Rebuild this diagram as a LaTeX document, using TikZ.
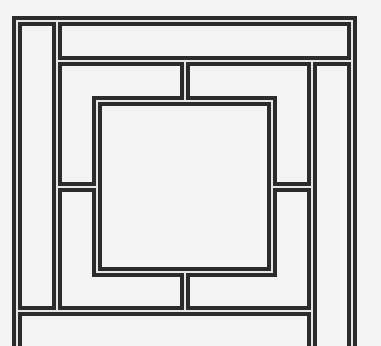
\documentclass[tikz,border=0pt]{standalone}
\definecolor{barcol}{HTML}{2B2B2B}
\definecolor{bgcol}{HTML}{F3F3F3}
\definecolor{gapcol}{HTML}{E6E6E6}
\newcommand\latticepaths[1]{%
  \draw[#1] (17,360) -- (17,21) -- (352,21) -- (352,360);
  \draw[#1] (57,21) -- (57,311);
  \draw[#1] (57,61) -- (352,61);
  \draw[#1] (312,61) -- (312,360);
  \draw[#1] (17,311) -- (312,311);
  \draw[#1] (97,101) rectangle (272,272);
  \draw[#1] (185,61) -- (185,101);
  \draw[#1] (185,272) -- (185,311);
  \draw[#1] (57,187) -- (97,187);
  \draw[#1] (272,187) -- (312,187);
}
\tikzset{
  barouter/.style={draw=barcol, line width=10pt, line join=miter},
  barinner/.style={draw=gapcol, line width=1.6pt, line join=miter}
}
\begin{document}
\begin{tikzpicture}[x=1pt,y=-1pt]
  \fill[bgcol] (0,0) rectangle (381,346);
  \clip (0,0) rectangle (381,346);
  \latticepaths{barouter}
  \latticepaths{barinner}
\end{tikzpicture}
\end{document}
